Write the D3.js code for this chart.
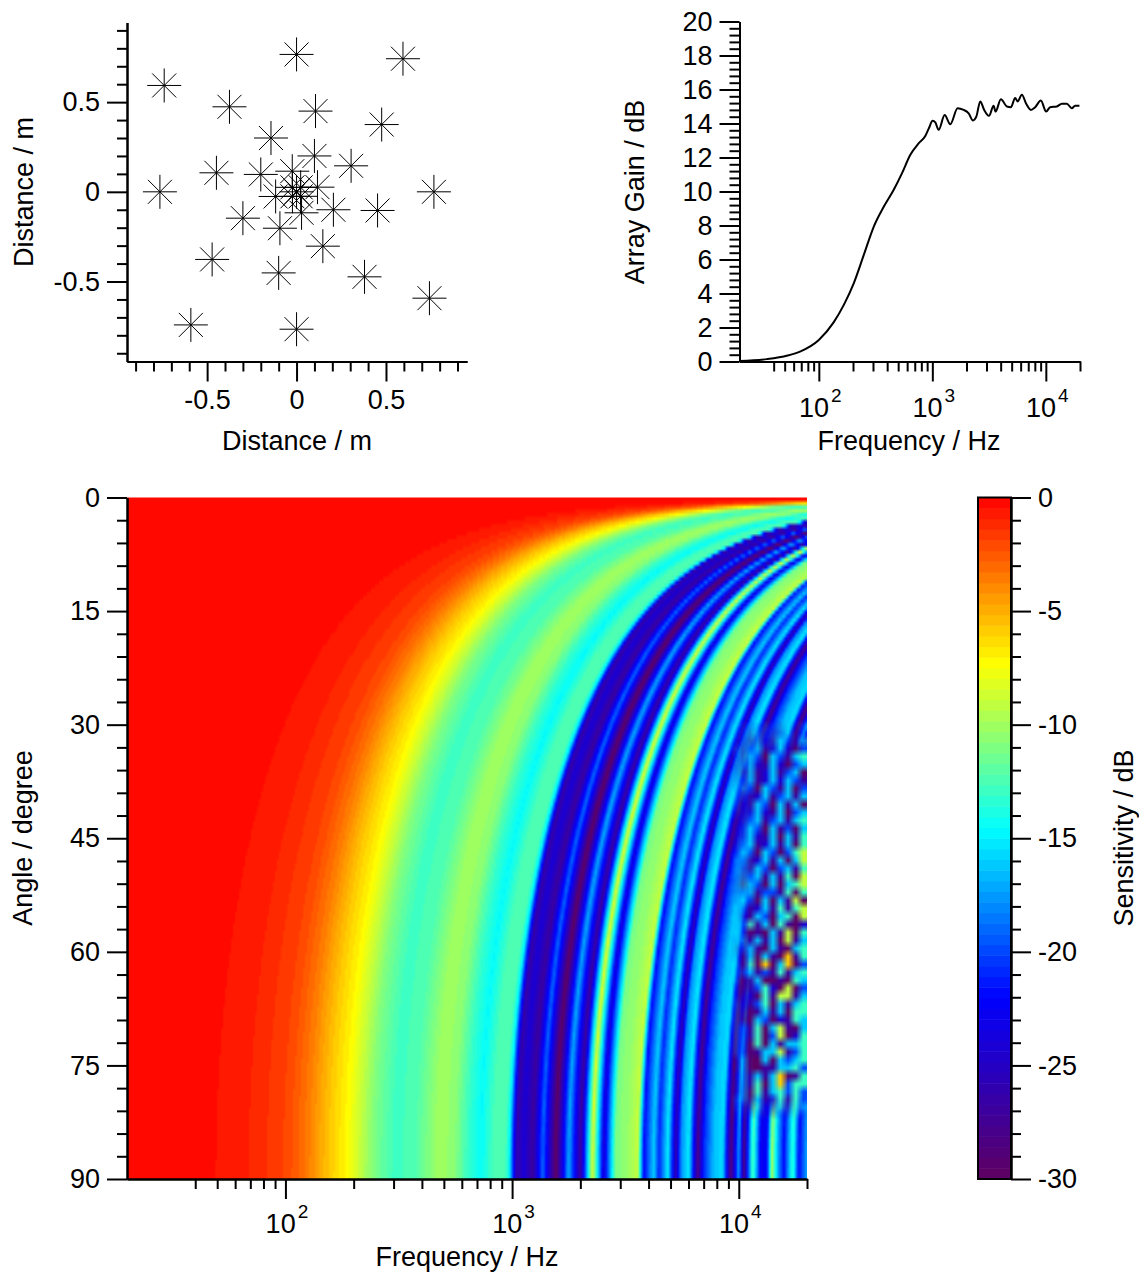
<!DOCTYPE html>
<html>
<head>
<meta charset="utf-8">
<script src="https://cdn.jsdelivr.net/npm/d3@7"></script>
<style>
body { margin: 0; background: #fff; }
svg { display: block; font-family: "Liberation Sans", Arial, sans-serif; }
</style>
</head>
<body>
<svg id="chart" width="1139" height="1272"></svg>
<script>
// microphone positions, in metres
const micX = [0, 0.595, -0.74, -0.375, 0.106, 0.476, -0.143, 0.1, 0.305, -0.024, -0.448, -0.2, -0.764, 0.768, 0.117, -0.117, 0.206, 0.453, -0.3, 0.028, -0.093, 0.147, -0.472, -0.1, 0.38, 0.743, -0.591, 0, -0.023, 0.023, -0.023, 0.023, 0];
const micY = [0.766, 0.742, 0.593, 0.474, 0.45, 0.375, 0.3, 0.2, 0.145, 0.115, 0.106, 0.097, 0, 0, 0.026, -0.026, -0.1, -0.104, -0.147, -0.117, -0.203, -0.303, -0.377, -0.452, -0.474, -0.593, -0.742, -0.766, 0.025, 0.025, -0.025, -0.025, 0];

// array gain curve
const gainFreq = [20, 35, 53, 69, 100, 135, 166, 203, 249, 305, 373, 457, 541, 640, 759, 867, 929, 1007, 1062, 1137, 1284, 1439, 1670, 1888, 2089, 2280, 2440, 2642, 2864, 3155, 3467, 3606, 4018, 4539, 4920, 5370, 5636, 6152, 6714, 7380, 8054, 9040, 10070, 10900, 12500, 13830, 15310, 16950, 18100, 19770];
const gainDb = [0.03, 0.14, 0.35, 0.6, 1.27, 2.3, 3.33, 4.6, 6.27, 7.94, 9.1, 10.1, 11.08, 12.16, 12.84, 13.27, 13.7, 14.16, 14.06, 13.63, 14.5, 13.96, 14.9, 14.8, 14.6, 14.18, 14.4, 15.3, 14.8, 14.45, 15.04, 14.7, 15.43, 15, 14.96, 15.5, 15.3, 15.69, 15.16, 14.8, 14.96, 15.35, 14.7, 14.96, 15, 15.16, 15.16, 14.9, 15.04, 15.04];

// sensitivity along the 90 degree row of the map
const rowFreq = [20, 42, 47, 72, 102, 125, 153, 188, 214, 245, 300, 367, 469, 552, 637, 726, 828, 935, 975, 1016, 1048, 1125, 1233, 1365, 1557, 1776, 2003, 2265, 2535, 2864, 3170, 3581, 3808, 4217, 4440, 4864, 5276, 5548, 6016, 6590, 7000, 7755, 8500, 9220, 10000, 10520, 11530, 12500, 13300, 14000, 14860, 15810, 17300, 18400, 20000];
const rowDb = [0, 0, -0.4, -1, -2, -3.5, -5.5, -7.3, -9, -11, -12.8, -12.5, -10, -10.5, -13, -14.6, -12.5, -12.5, -15, -22, -26.5, -24, -27, -19, -30, -17, -27, -8, -24, -11, -10.5, -9, -22, -16, -21, -15, -26, -18, -15, -28, -21, -16.5, -15.5, -29, -17, -28, -12, -23, -22, -10, -17, -22, -13, -22, -17];

// speckled lower right corner of the map
const cornerFreq = [9230, 20000];
const cornerAngle = [29.4, 82.2];
const cornerCodes = { O: -6, Y: -9, G: -13, C: -16, S: -20, B: -24, N: -27, P: -30 };
const cornerRows = [
    "SCBSCBNCBC", "CSNCSNBCNS", "SBNCBNCSNC", "CNSCNBCBPS", "SNCSPCSNCG",
    "NBCBNCBPSC", "BNCNBCNSCP", "BSCNBCBCSN", "SCSPCSNCPS", "CSNBCNSCNC",
    "CBNCSPCNCP", "SNBCBNCPSC", "BNSCNSCNCG", "NBCSPCNSPC", "PBCBNCPCNG",
    "PSCNBCNCPG", "BCSPCSPSGY", "CSNBCNCPCY", "CBNCSPSCNG", "SNSCNCNGPY",
    "BPCSPCPCGY", "BSCNSSNGPG", "SCSPCPCNYP", "CSNBCNGNGY", "CBNCSPCGPY",
    "CSGNCPGNPB", "CSPNPCNYPG", "SCNCNCPYNC", "NSCNPCNPCG", "SNCPCNPONG",
    "CNGPOPCOPS", "CSCNSNGNCG", "CPNCPPNPGC", "SPNSGBPYPS", "SNBPGNYYNC",
    "CBNSGPCNCG", "CNPNCNCPGG", "CPPCSPBNGC", "CSNGPCYNPC", "CSNGPSYPBG",
    "CSPGPCNCCG", "CSPNCCYNSG", "NCPPCPCSCG", "PCPPNNCCGS", "BCNCNCOPNG",
    "NCNGPCOSGG", "NCPGNCGSGS", "CCPCNBGNGS", "CSPGBBGNGC", "SSNCNNSNGS"
];

const colorStops = [0, -7.3, -14.6, -22, -30];
const colorNames = ["#ff0000", "#ffff00", "#00ffff", "#0000ff", "#600060"];
const bandCount = 64;

const scatterMajor = [-0.5, 0, 0.5];
const scatterMinor = [-0.9, -0.8, -0.7, -0.6, -0.4, -0.3, -0.2, -0.1, 0.1, 0.2, 0.3, 0.4, 0.6, 0.7, 0.8, 0.9];
const decades = [100, 1000, 10000];
const logMinor = [40, 50, 60, 70, 80, 90, 200, 300, 400, 500, 600, 700, 800, 900, 2000, 3000, 4000, 5000, 6000, 7000, 8000, 9000, 20000];
const gainMajor = [0, 2, 4, 6, 8, 10, 12, 14, 16, 18, 20];
const angleMajor = [0, 15, 30, 45, 60, 75, 90];
const sensMajor = [0, -5, -10, -15, -20, -25, -30];

const svg = d3.select("#chart");
const fontSize = 27;

// draw one axis with long and short ticks, same look on all four plots
function drawAxis(axisFn, scale, at, major, minor, len) {
    const g = svg.append("g").attr("transform", `translate(${at[0]},${at[1]})`);
    g.append("g").call(axisFn(scale).tickValues(minor).tickSize(len / 2).tickSizeOuter(0).tickFormat(""));
    const mg = g.append("g").call(axisFn(scale).tickValues(major).tickSize(len).tickSizeOuter(0).tickPadding(7).tickFormat(d => d));
    g.selectAll("path, line").attr("stroke", "#000").attr("stroke-width", 2);
    g.selectAll("text").attr("fill", "#000").style("font-size", fontSize + "px").style("font-family", "inherit");
    return mg;
}

// 10 with the exponent raised, for the log axes
function powerLabels(mg, y) {
    mg.selectAll("text").each(function (d) {
        const t = d3.select(this).text("").attr("dy", null).attr("y", y).attr("text-anchor", "middle").attr("x", 1);
        t.append("tspan").text("10");
        t.append("tspan").text(Math.log10(d)).style("font-size", "19px").attr("dx", 2).attr("dy", -15);
    });
}

function label(text, x, y, rotate) {
    svg.append("text")
        .attr("transform", `translate(${x},${y})` + (rotate ? " rotate(-90)" : ""))
        .attr("text-anchor", "middle")
        .style("font-size", fontSize + "px")
        .text(text);
}

// ---- microphone layout ----
const sx = d3.scaleLinear().domain([-0.948, 0.953]).range([127, 467]);
const sy = d3.scaleLinear().domain([-0.946, 0.944]).range([361.5, 22.5]);

const star = d3.path();
[[17, 0], [0, 17], [12, 12], [12, -12]].forEach(([dx, dy]) => {
    star.moveTo(-dx, -dy);
    star.lineTo(dx, dy);
});
svg.append("g").selectAll("path").data(micX).join("path")
    .attr("transform", (d, i) => `translate(${sx(d)},${sy(micY[i])})`)
    .attr("d", star.toString())
    .attr("fill", "none")
    .attr("stroke", "#000")
    .attr("stroke-width", 1);

let ax = drawAxis(d3.axisBottom, sx, [0, 361.5], scatterMajor, scatterMinor, 20);
ax.selectAll("text").attr("y", 47).attr("dy", null);
drawAxis(d3.axisLeft, sy, [127, 0], scatterMajor, scatterMinor, 20);
label("Distance / m", 297, 450);
label("Distance / m", 33, 192, true);

// ---- array gain ----
const gx = d3.scaleLog().domain([20, 20000]).range([739.5, 1080]);
const gy = d3.scaleLinear().domain([0, 20]).range([361.5, 21.5]);

svg.append("path")
    .datum(gainFreq)
    .attr("fill", "none")
    .attr("stroke", "#000")
    .attr("stroke-width", 2)
    .attr("stroke-linejoin", "round")
    .attr("d", d3.line().curve(d3.curveMonotoneX).x(d => gx(d)).y((d, i) => gy(gainDb[i])));

powerLabels(drawAxis(d3.axisBottom, gx, [0, 361.5], decades, logMinor, 20), 55);
drawAxis(d3.axisLeft, gy, [739.5, 0], gainMajor, d3.range(0, 20.01, 0.4).filter(d => Math.abs(d / 2 - Math.round(d / 2)) > 0.01), 20);
label("Frequency / Hz", 909, 450);
label("Array Gain / dB", 644, 192, true);

// ---- sensitivity map ----
const mx = d3.scaleLog().domain([20, 20000]).range([127, 807]);
const my = d3.scaleLinear().domain([0, 90]).range([497.5, 1179]);
const cb = d3.scaleLinear().domain([0, -30]).range([497.5, 1179]);

const ramp = d3.scaleLinear().domain(colorStops).range(colorNames);
const bandColors = d3.range(bandCount).map(i => ramp(-30 + (i + 0.5) * 30 / bandCount));
const color = d3.scaleQuantize().domain([-30, 0]).range(bandColors);

// the fringes only depend on frequency times sin(angle), so each row looks up the 90 degree row
const rowScale = d3.scaleLog().domain(rowFreq).range(rowDb).clamp(true);
const cols = 340, rows = 181;
const off = document.createElement("canvas");
off.width = cols;
off.height = rows;
const ctx = off.getContext("2d");
for (let r = 0; r < rows; r++) {
    const sinA = Math.sin(((r / (rows - 1)) * 90) * Math.PI / 180);
    for (let c = 0; c < cols; c++) {
        const f = mx.invert(127 + (c + 0.5) * 680 / cols);
        ctx.fillStyle = color(rowScale(Math.max(20, f * sinA)));
        ctx.fillRect(c, r, 1, 1);
    }
}
svg.append("image")
    .attr("x", mx.range()[0])
    .attr("y", my.range()[0])
    .attr("width", mx.range()[1] - mx.range()[0])
    .attr("height", my.range()[1] - my.range()[0])
    .attr("preserveAspectRatio", "none")
    .attr("href", off.toDataURL());

// corner cells go on top as their own small image so the browser blurs them like the picture
const cornerCanvas = document.createElement("canvas");
cornerCanvas.width = cornerRows[0].length;
cornerCanvas.height = cornerRows.length;
const cornerCtx = cornerCanvas.getContext("2d");
cornerRows.forEach((row, r) => {
    row.split("").forEach((code, c) => {
        cornerCtx.fillStyle = color(cornerCodes[code]);
        cornerCtx.fillRect(c, r, 1, 1);
    });
});

// fade the patch edges so no seam shows against the fringes around it
const defs = svg.append("defs");
function fadeMask(id, x2, y2, stops) {
    const grad = defs.append("linearGradient").attr("id", id + "Grad").attr("x1", 0).attr("y1", 0).attr("x2", x2).attr("y2", y2);
    stops.forEach(([at, v]) => grad.append("stop").attr("offset", at).attr("stop-color", v ? "#fff" : "#000"));
    defs.append("mask").attr("id", id)
        .attr("maskContentUnits", "objectBoundingBox")
        .attr("x", 0).attr("y", 0).attr("width", 1).attr("height", 1)
        .append("rect").attr("width", 1).attr("height", 1).attr("fill", `url(#${id}Grad)`);
}
fadeMask("fadeH", 1, 0, [[0, 0], [0.3, 1], [1, 1]]);
fadeMask("fadeV", 0, 1, [[0, 0], [0.08, 1], [0.94, 1], [1, 0]]);
svg.append("g").attr("mask", "url(#fadeV)").append("image")
    .attr("mask", "url(#fadeH)")
    .attr("x", mx(cornerFreq[0]))
    .attr("y", my(cornerAngle[0]))
    .attr("width", mx(cornerFreq[1]) - mx(cornerFreq[0]))
    .attr("height", my(cornerAngle[1]) - my(cornerAngle[0]))
    .attr("preserveAspectRatio", "none")
    .attr("href", cornerCanvas.toDataURL());

powerLabels(drawAxis(d3.axisBottom, mx, [0, 1179], decades, logMinor, 20), 54);
drawAxis(d3.axisLeft, my, [127, 0], angleMajor, d3.range(0, 91, 3).filter(d => d % 15), 20);
label("Frequency / Hz", 467, 1266);
label("Angle / degree", 32, 838, true);

// ---- colour bar ----
svg.append("g").selectAll("rect").data(bandColors).join("rect")
    .attr("x", 978)
    .attr("width", 33)
    .attr("y", (d, i) => cb(-30 + (i + 1) * 30 / bandCount))
    .attr("height", 681.5 / bandCount + 0.5)
    .attr("fill", d => d);
svg.append("rect")
    .attr("x", 978).attr("y", 497.5).attr("width", 33).attr("height", 681.5)
    .attr("fill", "none").attr("stroke", "#000").attr("stroke-width", 2);
drawAxis(d3.axisRight, cb, [1011, 0], sensMajor, d3.range(-29, 0).filter(d => d % 5), 20);
label("Sensitivity / dB", 1133, 838, true);
</script>
</body>
</html>
